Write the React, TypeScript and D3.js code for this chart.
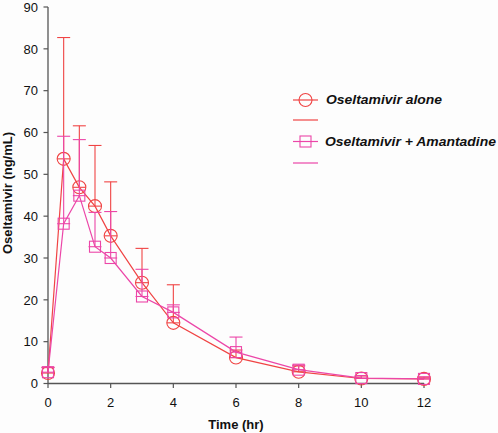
import React from "react";
import * as d3 from "d3";

const times = [0, 0.5, 1, 1.5, 2, 3, 4, 6, 8, 10, 12];
const aloneMean = [2.5, 53.7, 46.9, 42.4, 35.3, 24.1, 14.5, 6.2, 2.8, 1.2, 1.1];
const aloneUpper = [3.8, 82.7, 61.6, 56.9, 48.2, 32.3, 23.6, 8.0, 4.2, 1.8, 1.5];
const comboMean = [2.7, 38.2, 44.9, 32.7, 30.0, 20.8, 17.0, 7.5, 3.3, 1.3, 1.1];
const comboUpper = [3.9, 59.1, 58.3, 40.9, 41.1, 27.3, 18.8, 11.1, 4.4, 1.9, 1.6];
const xTicks = [0, 2, 4, 6, 8, 10, 12];
const yTicks = [0, 10, 20, 30, 40, 50, 60, 70, 80, 90];
const legendLabels = ["Oseltamivir alone", "Oseltamivir + Amantadine"];

const RED = "#f04444";
const PINK = "#ec46a8";

export default function App() {
  const x = d3.scaleLinear().domain([0, 12]).range([48, 424]);
  const y = d3.scaleLinear().domain([0, 90]).range([383.5, 7]);
  const line = d3
    .line<number>()
    .x((_, i) => x(times[i]))
    .y((d) => y(d));
  const cap = 6.5;
  const axisColor = "#555";

  const renderSeries = (mean: number[], upper: number[], color: string, shape: "circle" | "square") => (
    <g>
      <path d={line(mean) || ""} fill="none" stroke={color} strokeWidth={1.2} />
      {times.map((t, i) => (
        <g key={i} stroke={color} strokeWidth={1.1} fill="none">
          <line x1={x(t)} x2={x(t)} y1={y(mean[i])} y2={y(upper[i])} />
          <line x1={x(t) - cap} x2={x(t) + cap} y1={y(upper[i])} y2={y(upper[i])} />
          <line x1={x(t) - cap} x2={x(t) + cap} y1={y(mean[i])} y2={y(mean[i])} />
          {shape === "circle" ? (
            <circle cx={x(t)} cy={y(mean[i])} r={6.5} />
          ) : (
            <rect x={x(t) - 5.5} y={y(mean[i]) - 5.5} width={11} height={11} />
          )}
        </g>
      ))}
    </g>
  );

  return (
    <svg
      width={498}
      height={433}
      style={{ position: "absolute", left: 0, top: 0, background: "#fdfdfd" }}
      fontFamily="Liberation Sans, Arial, sans-serif"
    >
      {/* axes */}
      <line x1={48} x2={48} y1={y(90)} y2={y(0)} stroke={axisColor} strokeWidth={1.3} />
      <line x1={48} x2={x(12)} y1={y(0)} y2={y(0)} stroke={axisColor} strokeWidth={1.3} />
      {yTicks.map((v) => (
        <g key={v}>
          <line x1={43.5} x2={48} y1={y(v)} y2={y(v)} stroke={axisColor} strokeWidth={1.2} />
          <text x={38} y={y(v)} dy="0.36em" textAnchor="end" fontSize={13} fill="#111">
            {v}
          </text>
        </g>
      ))}
      {xTicks.map((v) => (
        <g key={v}>
          <line x1={x(v)} x2={x(v)} y1={y(0)} y2={y(0) + 4.5} stroke={axisColor} strokeWidth={1.2} />
          <text x={x(v)} y={407} textAnchor="middle" fontSize={13} fill="#111">
            {v}
          </text>
        </g>
      ))}
      <text x={236} y={428.5} textAnchor="middle" fontSize={13} fontWeight="bold" fill="#111">
        Time (hr)
      </text>
      <text
        transform="translate(12,193) rotate(-90)"
        textAnchor="middle"
        fontSize={13}
        fontWeight="bold"
        fill="#111"
      >
        Oseltamivir (ng/mL)
      </text>

      {renderSeries(aloneMean, aloneUpper, RED, "circle")}
      {renderSeries(comboMean, comboUpper, PINK, "square")}

      {/* legend */}
      <g>
        <line x1={293} x2={318} y1={100} y2={100} stroke={RED} strokeWidth={1.2} />
        <circle cx={305.5} cy={100} r={6.5} fill="none" stroke={RED} strokeWidth={1.1} />
        <text x={326} y={100} dy="0.36em" fontSize={12} fontWeight="bold" fontStyle="italic" fill="#111" textLength={116} lengthAdjust="spacingAndGlyphs">
          {legendLabels[0]}
        </text>
        <line x1={293} x2={318} y1={120} y2={120} stroke={RED} strokeWidth={1.2} />
        <line x1={293} x2={318} y1={141.5} y2={141.5} stroke={PINK} strokeWidth={1.2} />
        <rect x={300} y={136} width={11} height={11} fill="none" stroke={PINK} strokeWidth={1.1} />
        <text x={325} y={141.5} dy="0.36em" fontSize={12} fontWeight="bold" fontStyle="italic" fill="#111" textLength={171} lengthAdjust="spacingAndGlyphs">
          {legendLabels[1]}
        </text>
        <line x1={293} x2={318} y1={163} y2={163} stroke={PINK} strokeWidth={1.2} />
      </g>
    </svg>
  );
}
